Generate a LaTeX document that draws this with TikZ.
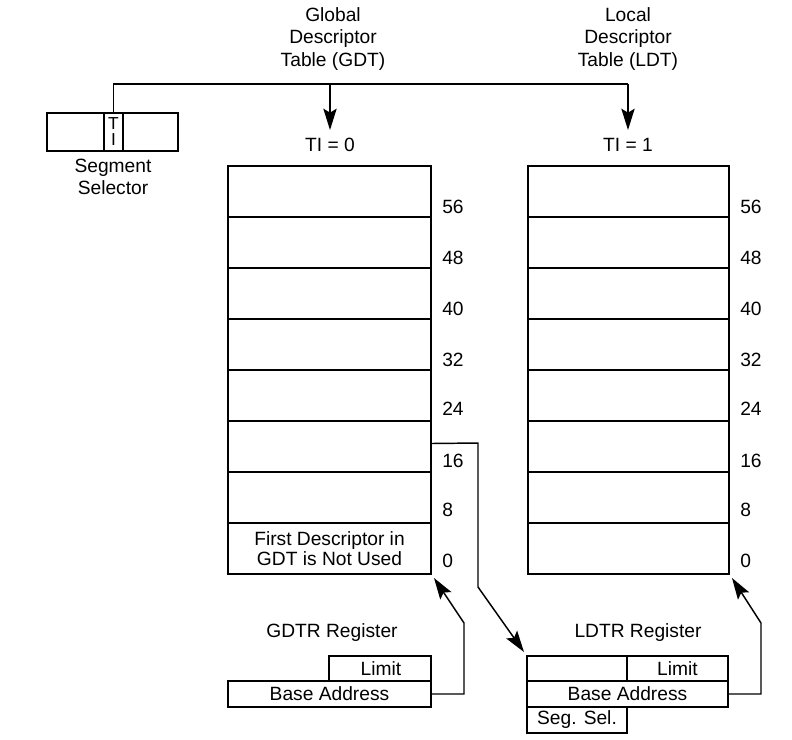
\documentclass[tikz,border=0pt]{standalone}
\usepackage{fontspec}
\setmainfont{Liberation Sans}
\usetikzlibrary{arrows.meta,calc}
\begin{document}
\begin{tikzpicture}[x=0.75pt,y=-0.75pt,
  every node/.style={font=\fontsize{14.4}{16.5}\selectfont, inner sep=0pt},
  box/.style 2 args={draw, line width=1.5pt, minimum width=#1*0.75pt, minimum height=#2*0.75pt},
  conn/.style={line width=1.1pt},
  arr/.style={line width=1.1pt, -{Stealth[length=16pt,width=10pt,inset=3pt]}}
]
\useasboundingbox (0,0) rectangle (792,739);

% segment selector
\node[box={57}{38}] (ssl) at (75.5,132) {};
\node[box={19}{38}] (ssti) at (113.5,132) {};
\node[font=\fontsize{13}{13}\selectfont] (sst) at (113.5,124) {T};
\node[font=\fontsize{13}{13}\selectfont] (ssi) at (113.5,140) {I};
\node[box={55}{38}] (ssr) at (150.5,132) {};
\node[align=center] (sstext) at (113,177) {Segment\\Selector};

% titles
\node[align=center, font=\fontsize{14.4}{16.9}\selectfont] (gdttitle) at (333,39) {Global\\Descriptor\\Table (GDT)};
\node[align=center, font=\fontsize{14.4}{16.9}\selectfont] (ldttitle) at (628,39) {Local\\Descriptor\\Table (LDT)};

\node (ti0) at (330,145) {TI = 0};
\node (ti1) at (628,145) {TI = 1};

% tables
\foreach \i in {0,...,6} {
  \node[box={203}{51}] (g\i) at (329.5,{191.5+51*\i}) {};
  \node[box={201}{51}] (l\i) at (628.5,{191.5+51*\i}) {};
}
\node[box={203}{51}, align=center, font=\fontsize{14.4}{15}\selectfont] (g7) at (329.5,548.5) {First Descriptor in\\GDT is Not Used};
\node[box={201}{51}] (l7) at (628.5,548.5) {};

\foreach \n/\y in {56/207,48/258,40/309,32/360,24/409,16/461,8/510,0/561} {
  \node[anchor=west] (gn\n) at (442,\y) {\n};
  \node[anchor=west] (ln\n) at (740,\y) {\n};
}

% top connector
\coordinate (gtop) at (330,84);
\coordinate (ltop) at (628,84);
\coordinate (gtip) at (330,130);
\coordinate (ltip) at (628,130);
\draw[conn] (ssti.north) |- (ltop);
\draw[arr] (gtop) -- (gtip);
\draw[arr] (ltop) -- (ltip);

% GDTR
\node (gdtrtext) at (332,633) {GDTR Register};
\node[box={102}{25}] (glim) at (380,668.5) {};
\node at ([xshift=0.75pt]glim.center) {Limit};
\node[box={203}{26}] (gbase) at (329.5,694) {Base Address};

% LDTR
\node (ldtrtext) at (638,633) {LDTR Register};
\node[box={100}{25}] (lempty) at (577,668.5) {};
\node[box={101}{25}] (llim) at (677.5,668.5) {Limit};
\node[box={201}{26}] (lbase) at (627.5,694) {Base Address};
\node[box={100}{26}] (lsel) at (577,720) {Seg. Sel.};

% connectors
\coordinate (gdtarget) at ($(g7.south east)+(2,3)$);
\coordinate (ldtarget) at ($(l7.south east)+(2,3)$);
\draw[arr] (gbase.east) -- (464,694) -- (464,623) -- (gdtarget);
\draw[arr] (lbase.east) -- (761,694) -- (761,623) -- (ldtarget);
\draw[arr] ($(g5.east)+(0,-3)$) -- (478,443) -- (478,587) -- ($(lempty.north west)+(-2,-3)$);
\end{tikzpicture}
\end{document}
